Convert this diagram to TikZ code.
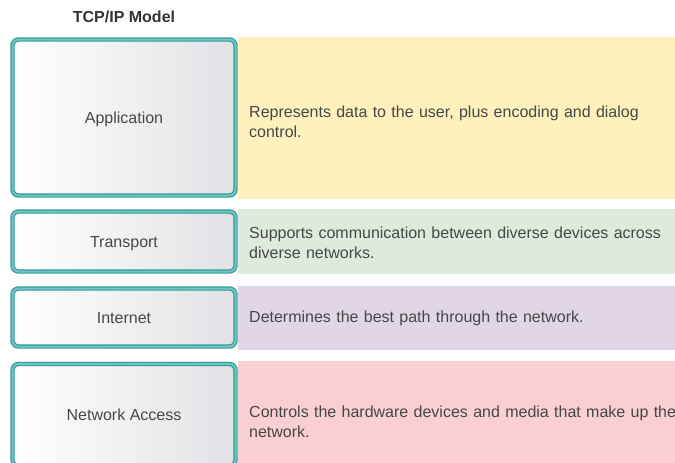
\documentclass[tikz,border=0pt]{standalone}
\usepackage{fontspec}
\setmainfont{Liberation Sans}
\usetikzlibrary{positioning}

\definecolor{tealdark}{HTML}{2E9A95}
\definecolor{teallight}{HTML}{72C6C1}
\definecolor{txtgray}{HTML}{474747}
\definecolor{boxgray}{HTML}{E2E2E6}
\definecolor{bgapp}{HTML}{FFF1BE}
\definecolor{bgtrn}{HTML}{DDEBDC}
\definecolor{bgnet}{HTML}{E0D6E6}
\definecolor{bgacc}{HTML}{F9CFD2}

\tikzstyle{every node}=[text=txtgray,font=\fontsize{16}{20}\selectfont]
\tikzstyle{layer}=[rectangle,rounded corners=6pt,draw=tealdark,double=teallight,line width=1.2pt,double distance=2pt,left color=white,right color=boxgray,minimum width=223pt,text depth=0pt]
\tikzstyle{band}=[rectangle,anchor=west,minimum width=437pt,inner sep=0pt]
\tikzstyle{desc}=[anchor=west,inner sep=0pt,text width=430pt,align=left]

\begin{document}
\begin{tikzpicture}[x=1pt,y=-1pt]
  \useasboundingbox (0,0) rectangle (675,463);
  \clip (0,0) rectangle (675,463);
  \node[font=\bfseries\fontsize{16}{20}\selectfont,text=black!80] (title) at (124,17) {TCP/IP Model};

  % coloured bands first, the layer boxes lie over their left edge
  \node[band,fill=bgapp,minimum height=162pt] (appbg) at (238,118) {};
  \node[band,fill=bgtrn,minimum height=65pt] (trnbg) at (238,241.5) {};
  \node[band,fill=bgnet,minimum height=64pt] (netbg) at (238,318) {};
  \node[band,fill=bgacc,minimum height=103pt] (accbg) at (238,412.5) {};

  \node[desc] (appdesc) at ([xshift=11pt,yshift=-4pt]appbg.west) {Represents data to the user, plus encoding and dialog\\control.};
  \node[desc] (trndesc) at ([xshift=11pt,yshift=-1.5pt]trnbg.west) {Supports communication between diverse devices across\\diverse networks.};
  \node[desc] (netdesc) at ([xshift=11pt]netbg.west) {Determines the best path through the network.};
  \node[desc] (accdesc) at ([xshift=11pt,yshift=-9pt]accbg.west) {Controls the hardware devices and media that make up the\\network.};

  % layers
  \node[layer,minimum height=156pt] (app) at (124,117.5) {Application};
  \node[layer,minimum height=60pt] (trn) at (124,241.5) {Transport};
  \node[layer,minimum height=58pt] (net) at (124,317.5) {Internet};
  \node[layer,minimum height=102pt] (acc) at (124,415) {Network Access};
\end{tikzpicture}
\end{document}
